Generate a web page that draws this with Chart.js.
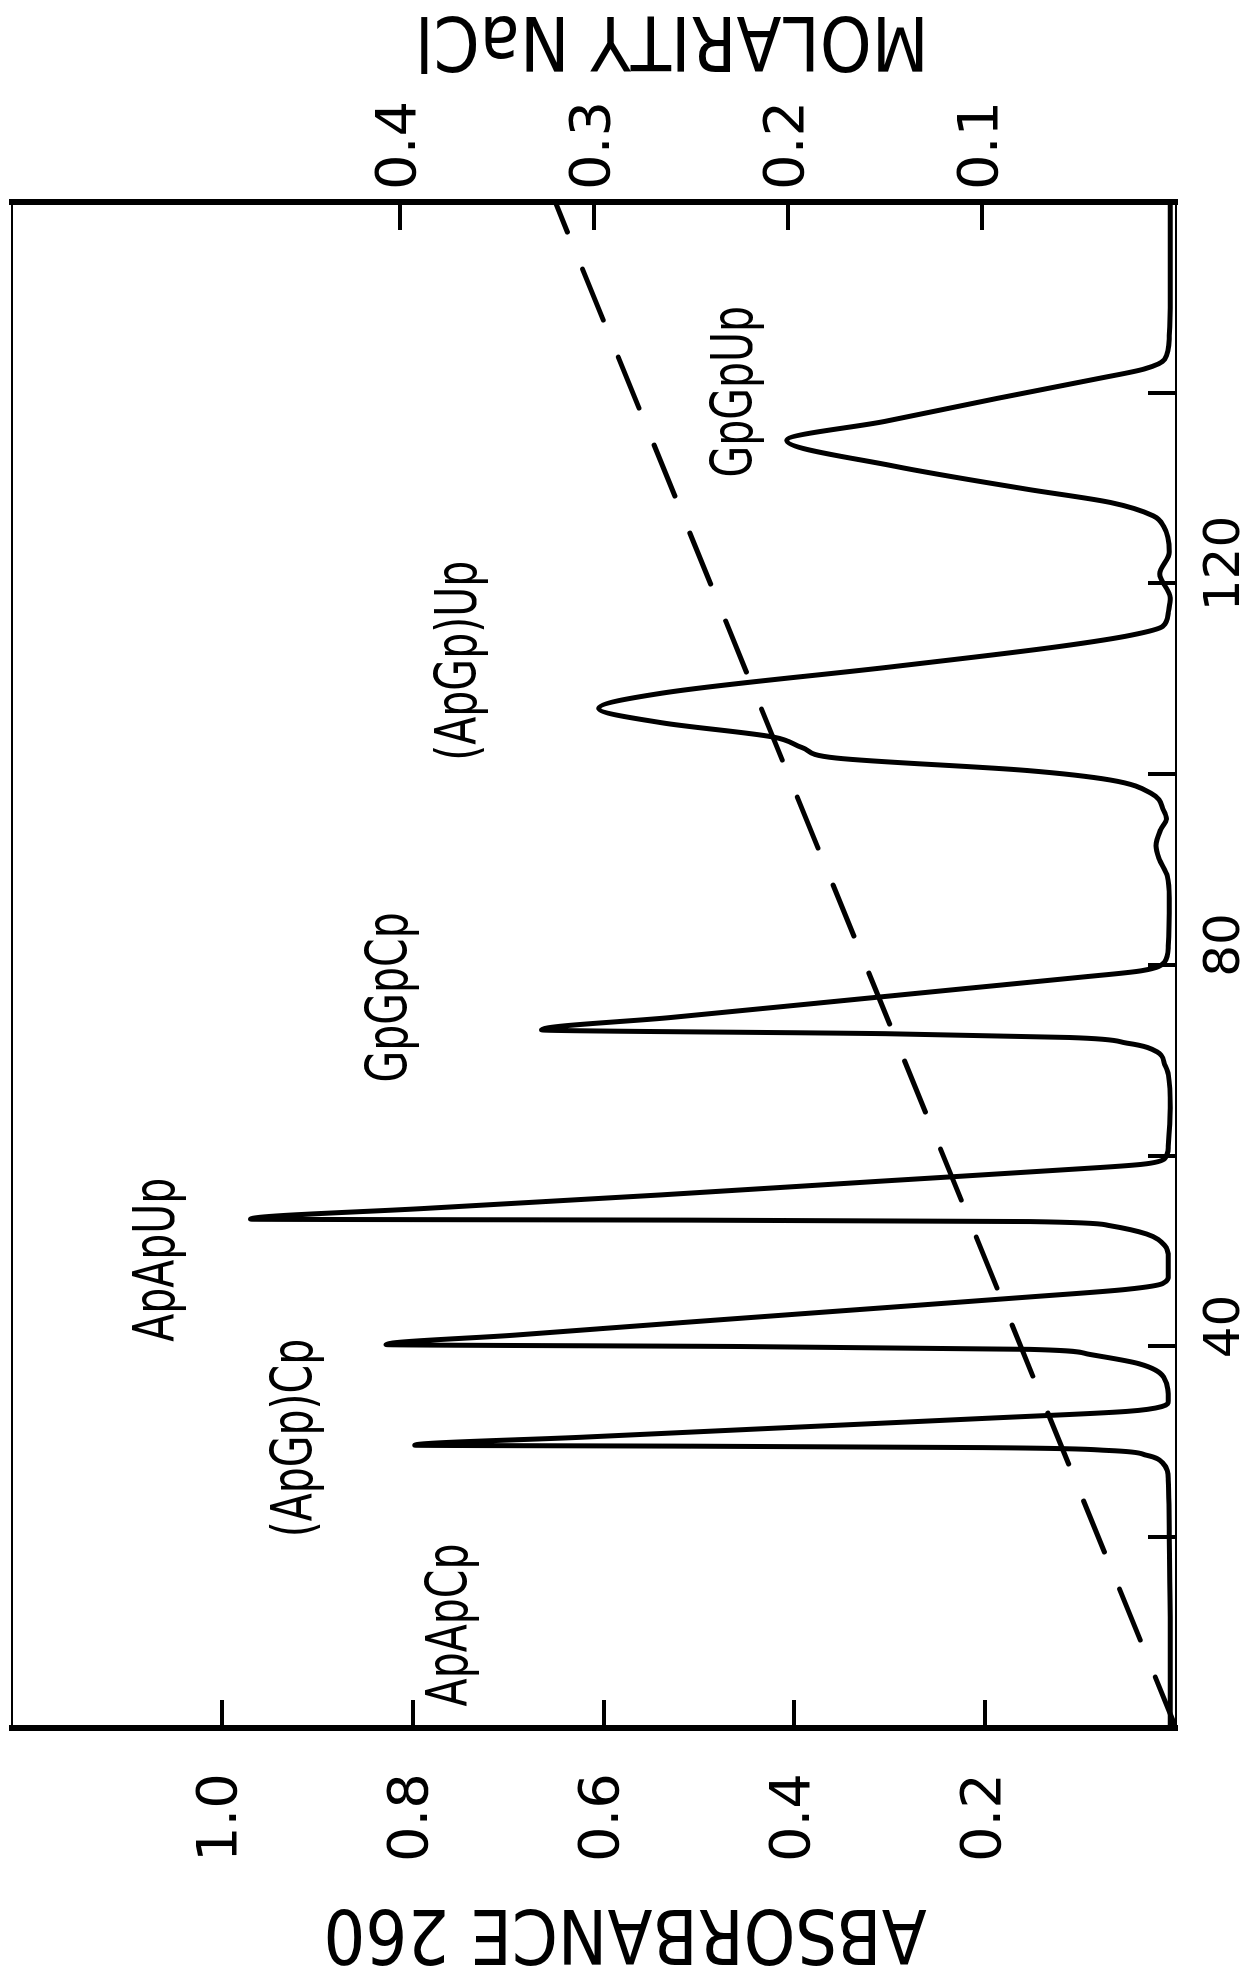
<!DOCTYPE html>
<html>
<head>
<meta charset="utf-8">
<title>Chromatogram - absorbance 260 / NaCl gradient</title>
<script src="https://cdn.jsdelivr.net/npm/chart.js@4.4.0/dist/chart.umd.min.js"></script>
<style>
  html, body { margin: 0; padding: 0; background: #fff; }
  #wrap { position: relative; width: 1255px; height: 1969px; overflow: hidden; }
  /* the figure is printed turned a quarter turn, so the landscape chart is rotated */
  #chart { position: absolute; left: 0; top: 0; transform-origin: 0 0; transform: translateY(1969px) rotate(-90deg); }
</style>
</head>
<body>
<div id="wrap"><canvas id="chart" width="1969" height="1255"></canvas></div>
<script>
// Elution profile (fraction number vs A260)
const fractionNumber = [
    0, 10, 20, 26, 27.8, 28.6, 29.1, 29.4, 29.55, 29.65,
    30.5, 31.5, 32.5, 33.2, 33.7, 34.3, 36.8, 38.2, 39.2, 39.7, 40.0, 40.2,
    41.2, 42.5, 44.0, 45.2, 46.0, 46.6, 47.5, 49.3, 50.6, 51.8, 52.7, 53.1, 53.25, 53.35,
    54.5, 55.9, 57.3, 58.5, 59.1, 59.7, 61, 65, 68.5, 69.6, 70.9, 71.8, 72.4, 72.8, 73.2,
    74.5, 76, 77.5, 78.7, 79.4, 80.3, 82, 87, 89.3, 91.2, 92.5, 94.2, 95.3,
    96.2, 98.0, 99.4, 100.4, 101.7, 102.8, 103.9, 105.4, 106.9,
    108.5, 111.3, 113.4, 114.6, 115.5, 117, 118.5, 121.0, 123.3,
    126.0, 127.1, 128.5, 129.9, 132.3, 135.0,
    137, 139.4, 141.5, 142.5, 143.5, 146, 150, 160
];
const absorbance260 = [
    0.006, 0.006, 0.007, 0.008, 0.014, 0.031, 0.071, 0.203, 0.508, 0.798,
    0.62, 0.407, 0.193, 0.051, 0.015, 0.008, 0.013, 0.039, 0.092, 0.153, 0.458, 0.828,
    0.692, 0.519, 0.315, 0.153, 0.051, 0.014, 0.008, 0.008, 0.012, 0.031, 0.071, 0.153, 0.508, 0.970,
    0.783, 0.539, 0.315, 0.122, 0.036, 0.012, 0.008, 0.006, 0.008, 0.012, 0.02, 0.051, 0.112, 0.305, 0.665,
    0.529, 0.376, 0.224, 0.102, 0.036, 0.012, 0.008, 0.007, 0.009, 0.018, 0.021, 0.016, 0.01,
    0.013, 0.026, 0.069, 0.157, 0.356, 0.392, 0.422, 0.539, 0.605,
    0.539, 0.295, 0.122, 0.046, 0.014, 0.008, 0.006, 0.017, 0.007,
    0.013, 0.024, 0.069, 0.157, 0.295, 0.408,
    0.305, 0.188, 0.081, 0.033, 0.012, 0.007, 0.006, 0.006
];

// Linear NaCl gradient (dashed line)
const gradientFraction = [0, 160];
const gradientMolarity = [0, 0.32];

// Peak names and where they are written (fraction, A260)
const peakNames = ['ApApCp', '(ApGp)Cp', 'ApApUp', 'GpGpCp', '(ApGp)Up', 'GpGpUp'];
const peakLabelFraction = [10.8, 30.4, 49.1, 76.6, 111.9, 140.1];
const peakLabelAbsorbance = [0.759, 0.921, 1.066, 0.822, 0.749, 0.46];

// Axis ticks
const fractionTicks = [20, 40, 60, 80, 100, 120, 140];
const fractionTickLabels = [40, 80, 120];
const absorbanceTicks = [0.2, 0.4, 0.6, 0.8, 1.0];
const molarityTicks = [0.1, 0.2, 0.3, 0.4];

const absorbanceTitle = 'ABSORBANCE 260';
const molarityTitle = 'MOLARITY NaCl';

Chart.defaults.font.family = '"DejaVu Sans", sans-serif';
Chart.defaults.color = '#000';

// inward tick marks, no grid lines
function innerTicks() {
    return { drawOnChartArea: false, drawTicks: true, tickLength: -28, color: '#000', lineWidth: 4 };
}

// fixed axis size, and no extra room asked for the end labels
function fixSize(prop, size) {
    return function(axis) {
        axis[prop] = size;
        axis.paddingTop = 0;
        axis.paddingBottom = 0;
        axis.paddingLeft = 0;
        axis.paddingRight = 0;
    };
}

function tallText(ctx, text, x, y, stretch) {
    ctx.save();
    ctx.translate(x, y);
    ctx.scale(1, stretch);
    ctx.fillText(text, 0, 0);
    ctx.restore();
}

// peak names and the two axis titles (both titles read upside down on the page)
const textPlugin = {
    id: 'chartText',
    afterDatasetsDraw(chart) {
        const ctx = chart.ctx;
        const x = chart.scales.x, y = chart.scales.y;
        ctx.save();
        ctx.fillStyle = '#000';
        ctx.textAlign = 'center';
        ctx.textBaseline = 'middle';
        ctx.font = '41px "DejaVu Sans"';
        peakNames.forEach(function(name, i) {
            tallText(ctx, name, x.getPixelForValue(peakLabelFraction[i]), y.getPixelForValue(peakLabelAbsorbance[i]), 1.4);
        });

        ctx.font = '66px "DejaVu Sans"';
        ctx.save();
        ctx.translate(40, 625);
        ctx.rotate(-Math.PI / 2);
        tallText(ctx, absorbanceTitle, 0, 0, 1.12);
        ctx.restore();

        ctx.save();
        ctx.translate(1933, 672);
        ctx.rotate(-Math.PI / 2);
        tallText(ctx, molarityTitle, 0, 0, 1.12);
        ctx.restore();
        ctx.restore();
    }
};

const ctx = document.getElementById('chart').getContext('2d');
new Chart(ctx, {
    type: 'line',
    data: {
        datasets: [{
            label: 'A260',
            data: fractionNumber.map(function(f, i) { return { x: f, y: absorbance260[i] }; }),
            borderColor: '#000',
            borderWidth: 5,
            pointRadius: 0,
            fill: false,
            cubicInterpolationMode: 'monotone',
            yAxisID: 'y'
        }, {
            label: 'NaCl',
            data: gradientFraction.map(function(f, i) { return { x: f, y: gradientMolarity[i] }; }),
            borderColor: '#000',
            borderWidth: 5,
            borderDash: [55, 40],
            borderCapStyle: 'round',
            pointRadius: 0,
            fill: false,
            tension: 0,
            yAxisID: 'y1'
        }]
    },
    options: {
        responsive: false,
        animation: false,
        devicePixelRatio: 1,
        layout: { padding: { top: 12, left: 0, right: 0, bottom: 0 } },
        plugins: {
            legend: { display: false },
            tooltip: { enabled: false }
        },
        scales: {
            x: {
                type: 'linear',
                position: 'bottom',
                min: 0,
                max: 160,
                afterBuildTicks: function(axis) { axis.ticks = fractionTicks.map(function(v) { return { value: v }; }); },
                afterFit: fixSize('height', 79),
                ticks: {
                    autoSkip: false,
                    maxRotation: 0,
                    minRotation: 0,
                    padding: 48,
                    labelOffset: 20,
                    font: { size: 50 },
                    callback: function(v) { return fractionTickLabels.includes(v) ? String(v) : ''; }
                },
                grid: innerTicks(),
                border: { display: true, color: '#000', width: 2 }
            },
            x2: {
                type: 'linear',
                position: 'top',
                min: 0,
                max: 160,
                afterFit: fixSize('height', 0),
                ticks: { display: false },
                grid: { drawOnChartArea: false, drawTicks: false },
                border: { display: true, color: '#000', width: 2 }
            },
            y: {
                type: 'linear',
                position: 'left',
                min: 0,
                max: 1.22,
                afterBuildTicks: function(axis) { axis.ticks = absorbanceTicks.map(function(v) { return { value: v }; }); },
                afterFit: fixSize('width', 241),
                ticks: {
                    padding: 73,
                    font: { size: 56 },
                    callback: function(v) { return v.toFixed(1); }
                },
                grid: innerTicks(),
                border: { display: true, color: '#000', width: 6 }
            },
            y1: {
                type: 'linear',
                position: 'right',
                min: 0,
                max: 0.6,
                afterBuildTicks: function(axis) { axis.ticks = molarityTicks.map(function(v) { return { value: v }; }); },
                afterFit: fixSize('width', 202),
                ticks: {
                    padding: 40,
                    font: { size: 56 },
                    callback: function(v) { return v.toFixed(1); }
                },
                grid: innerTicks(),
                border: { display: true, color: '#000', width: 6 }
            }
        }
    },
    plugins: [textPlugin]
});
</script>
</body>
</html>
